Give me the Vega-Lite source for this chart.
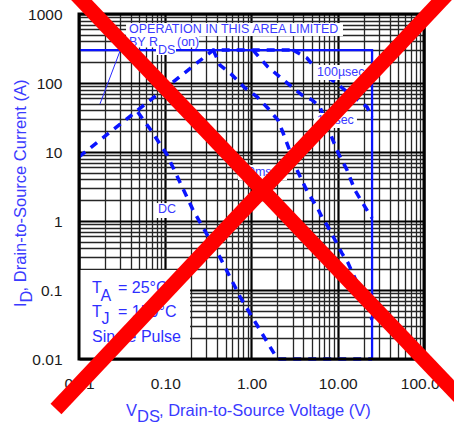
{
  "$schema": "https://vega.github.io/schema/vega-lite/v6.json",
  "width": 345,
  "height": 345,
  "autosize": {"type": "none"},
  "padding": {"left": 79, "top": 14, "right": 30, "bottom": 65},
  "background": "white",
  "config": {"view": {"stroke": null}, "font": "Liberation Sans"},
  "datasets": {
    "curves": [
      {"s": "rds", "i": 0, "v": 0.01, "a": 8.5},
      {"s": "rds", "i": 1, "v": 0.36, "a": 300},
      {"s": "rds", "i": 2, "v": 3.0, "a": 300},
      {"s": "dc", "i": 0, "v": 0.048, "a": 38},
      {"s": "dc", "i": 1, "v": 0.068, "a": 20.8},
      {"s": "dc", "i": 2, "v": 0.105, "a": 9.1},
      {"s": "dc", "i": 3, "v": 0.21, "a": 1.44},
      {"s": "dc", "i": 4, "v": 0.43, "a": 0.30},
      {"s": "dc", "i": 5, "v": 0.74, "a": 0.079},
      {"s": "dc", "i": 6, "v": 1.64, "a": 0.015},
      {"s": "dc", "i": 7, "v": 2.0, "a": 0.01},
      {"s": "dc", "i": 8, "v": 25, "a": 0.01},
      {"s": "10ms", "i": 0, "v": 0.36, "a": 300},
      {"s": "10ms", "i": 1, "v": 0.431, "a": 182},
      {"s": "10ms", "i": 2, "v": 0.594, "a": 131},
      {"s": "10ms", "i": 3, "v": 0.84, "a": 85},
      {"s": "10ms", "i": 4, "v": 1.16, "a": 63},
      {"s": "10ms", "i": 5, "v": 1.55, "a": 43},
      {"s": "10ms", "i": 6, "v": 2.03, "a": 29},
      {"s": "10ms", "i": 7, "v": 2.32, "a": 19},
      {"s": "10ms", "i": 8, "v": 3.37, "a": 5.5},
      {"s": "10ms", "i": 9, "v": 4.52, "a": 2.55},
      {"s": "10ms", "i": 10, "v": 5.74, "a": 1.6},
      {"s": "10ms", "i": 11, "v": 6.56, "a": 1.14},
      {"s": "10ms", "i": 12, "v": 7.7, "a": 0.82},
      {"s": "10ms", "i": 13, "v": 9.3, "a": 0.53},
      {"s": "10ms", "i": 14, "v": 11.2, "a": 0.34},
      {"s": "10ms", "i": 15, "v": 13.1, "a": 0.25},
      {"s": "10ms", "i": 16, "v": 22.4, "a": 0.057},
      {"s": "10ms", "i": 17, "v": 25, "a": 0.037},
      {"s": "1ms", "i": 0, "v": 1.04, "a": 300},
      {"s": "1ms", "i": 1, "v": 1.55, "a": 171},
      {"s": "1ms", "i": 2, "v": 2.14, "a": 122},
      {"s": "1ms", "i": 3, "v": 2.95, "a": 87.5},
      {"s": "1ms", "i": 4, "v": 3.85, "a": 67},
      {"s": "1ms", "i": 5, "v": 5.03, "a": 57},
      {"s": "1ms", "i": 6, "v": 6.22, "a": 45},
      {"s": "1ms", "i": 7, "v": 8.1, "a": 19},
      {"s": "1ms", "i": 8, "v": 10.1, "a": 9.7},
      {"s": "1ms", "i": 9, "v": 12.8, "a": 5.5},
      {"s": "1ms", "i": 10, "v": 15.8, "a": 2.8},
      {"s": "1ms", "i": 11, "v": 20.7, "a": 1.6},
      {"s": "1ms", "i": 12, "v": 25, "a": 1.1},
      {"s": "100us", "i": 0, "v": 3.03, "a": 300},
      {"s": "100us", "i": 1, "v": 4.4, "a": 230},
      {"s": "100us", "i": 2, "v": 5.74, "a": 154},
      {"s": "100us", "i": 3, "v": 9.3, "a": 103},
      {"s": "100us", "i": 4, "v": 12.1, "a": 79},
      {"s": "100us", "i": 5, "v": 21.8, "a": 45},
      {"s": "100us", "i": 6, "v": 25, "a": 32}
    ],
    "limit": [
      {"i": 0, "v": 0.01, "a": 300},
      {"i": 1, "v": 25, "a": 300},
      {"i": 2, "v": 25, "a": 0.01}
    ],
    "pointer": [
      {"i": 0, "v": 0.0175, "a": 49.7},
      {"i": 1, "v": 0.0341, "a": 449}
    ],
    "boxes": [
      {"x0": 0.01, "x1": 0.194, "y0": 0.01, "y1": 0.195},
      {"x0": 0.0351, "x1": 11.5, "y0": 480, "y1": 741},
      {"x0": 0.0315, "x1": 0.2462, "y0": 327, "y1": 480},
      {"x0": 0.0781, "x1": 0.1332, "y0": 254.6, "y1": 367},
      {"x0": 5.30, "x1": 21.3, "y0": 110.5, "y1": 182},
      {"x0": 5.30, "x1": 16.7, "y0": 22.3, "y1": 36.7},
      {"x0": 0.698, "x1": 2.58, "y0": 3.93, "y1": 6.49},
      {"x0": 0.076, "x1": 0.1406, "y0": 1.105, "y1": 1.82}
    ],
    "notes": [
      {"t": "OPERATION IN THIS AREA LIMITED", "x": 0.038, "y": 600},
      {"t": "BY R", "x": 0.038, "y": 393},
      {"t": "DS", "x": 0.0824, "y": 300},
      {"t": "(on)", "x": 0.1368, "y": 390},
      {"t": "100µsec", "x": 5.75, "y": 144},
      {"t": "1msec", "x": 5.75, "y": 29.1},
      {"t": "10msec", "x": 0.756, "y": 5.13},
      {"t": "DC", "x": 0.0824, "y": 1.49}
    ],
    "conditions": [
      {"t": "T", "x": 0.01416, "y": 0.1087},
      {"t": "A", "x": 0.0178, "y": 0.0818},
      {"t": "= 25°C", "x": 0.02833, "y": 0.1087},
      {"t": "T", "x": 0.01416, "y": 0.0472},
      {"t": "J", "x": 0.0182, "y": 0.038},
      {"t": "= 150°C", "x": 0.02833, "y": 0.0472},
      {"t": "Single Pulse", "x": 0.01416, "y": 0.0205}
    ],
    "xtitle": [
      {"t": "V", "x": 0.0351, "y": 0.001764},
      {"t": "DS", "x": 0.047, "y": 0.001443},
      {"t": ", Drain-to-Source Voltage (V)", "x": 0.0846, "y": 0.001764}
    ],
    "ytitle": [
      {"t": "I", "x": 0.002126, "y": 0.0567},
      {"t": "D", "x": 0.002494, "y": 0.0661},
      {"t": ", Drain-to-Source Current (A)", "x": 0.002126, "y": 0.0955}
    ],
    "cross": [
      {"k": 1, "i": 0, "x": 0.00829, "y": 2228},
      {"k": 1, "i": 1, "x": 341, "y": 0.00195},
      {"k": 2, "i": 0, "x": 0.00541, "y": 0.001886},
      {"k": 2, "i": 1, "x": 205.6, "y": 2228}
    ]
  },
  "layer": [
    {
      "data": {"name": "curves"},
      "mark": {"type": "line", "color": "#0a14ff", "strokeWidth": 3.5, "strokeDash": [8, 7]},
      "encoding": {
        "x": {
          "field": "v", "type": "quantitative",
          "scale": {"type": "log", "domain": [0.01, 100], "nice": false},
          "axis": {
            "values": [0.01, 0.02, 0.03, 0.04, 0.05, 0.06, 0.07, 0.08, 0.09, 0.1, 0.2, 0.3, 0.4, 0.5, 0.6, 0.7, 0.8, 0.9, 1, 2, 3, 4, 5, 6, 7, 8, 9, 10, 20, 30, 40, 50, 60, 70, 80, 90, 100],
            "labelExpr": "abs(log(datum.value)/LN10 - round(log(datum.value)/LN10)) < 0.001 ? format(datum.value, '.2f') : ''",
            "title": null, "ticks": false, "domain": false, "grid": true,
            "labelFlush": false, "labelOverlap": false,
            "labelFont": "Liberation Sans", "labelFontSize": 15.5, "labelColor": "#1a1a1a", "labelPadding": 17,
            "gridColor": {"condition": {"test": "abs(log(datum.value)/LN10 - round(log(datum.value)/LN10)) < 0.001", "value": "#000000"}, "value": "#262626"},
            "gridWidth": {"condition": {"test": "abs(log(datum.value)/LN10 - round(log(datum.value)/LN10)) < 0.001", "value": 2.2}, "value": 1.3},
            "gridOpacity": 1
          }
        },
        "y": {
          "field": "a", "type": "quantitative",
          "scale": {"type": "log", "domain": [0.01, 1000], "nice": false},
          "axis": {
            "values": [0.01, 0.02, 0.03, 0.04, 0.05, 0.06, 0.07, 0.08, 0.09, 0.1, 0.2, 0.3, 0.4, 0.5, 0.6, 0.7, 0.8, 0.9, 1, 2, 3, 4, 5, 6, 7, 8, 9, 10, 20, 30, 40, 50, 60, 70, 80, 90, 100, 200, 300, 400, 500, 600, 700, 800, 900, 1000],
            "labelExpr": "abs(log(datum.value)/LN10 - round(log(datum.value)/LN10)) < 0.001 ? format(datum.value, '~g') : ''",
            "title": null, "ticks": false, "domain": false, "grid": true,
            "labelFlush": false, "labelOverlap": false,
            "labelFont": "Liberation Sans", "labelFontSize": 15.5, "labelColor": "#1a1a1a", "labelPadding": 17,
            "gridColor": {"condition": {"test": "abs(log(datum.value)/LN10 - round(log(datum.value)/LN10)) < 0.001", "value": "#000000"}, "value": "#262626"},
            "gridWidth": {"condition": {"test": "abs(log(datum.value)/LN10 - round(log(datum.value)/LN10)) < 0.001", "value": 2.2}, "value": 1.3},
            "gridOpacity": 1
          }
        },
        "detail": {"field": "s"},
        "order": {"field": "i"}
      }
    },
    {
      "data": {"name": "limit"},
      "mark": {"type": "line", "color": "#0a14ff", "strokeWidth": 2.3},
      "encoding": {
        "x": {"field": "v", "type": "quantitative", "scale": {"type": "log", "domain": [0.01, 100], "nice": false}},
        "y": {"field": "a", "type": "quantitative", "scale": {"type": "log", "domain": [0.01, 1000], "nice": false}},
        "order": {"field": "i"}
      }
    },
    {
      "data": {"name": "boxes"},
      "mark": {"type": "rect", "fill": "white", "stroke": null},
      "encoding": {
        "x": {"field": "x0", "type": "quantitative", "scale": {"type": "log", "domain": [0.01, 100], "nice": false}},
        "x2": {"field": "x1"},
        "y": {"field": "y0", "type": "quantitative", "scale": {"type": "log", "domain": [0.01, 1000], "nice": false}},
        "y2": {"field": "y1"}
      }
    },
    {
      "data": {"name": "pointer"},
      "mark": {"type": "line", "color": "#2a2aff", "strokeWidth": 1},
      "encoding": {
        "x": {"field": "v", "type": "quantitative", "scale": {"type": "log", "domain": [0.01, 100], "nice": false}},
        "y": {"field": "a", "type": "quantitative", "scale": {"type": "log", "domain": [0.01, 1000], "nice": false}},
        "order": {"field": "i"}
      }
    },
    {
      "data": {"name": "notes"},
      "mark": {"type": "text", "align": "left", "baseline": "middle", "fontSize": 12.5, "font": "Liberation Sans", "color": "#3a3aff"},
      "encoding": {
        "x": {"field": "x", "type": "quantitative", "scale": {"type": "log", "domain": [0.01, 100], "nice": false}},
        "y": {"field": "y", "type": "quantitative", "scale": {"type": "log", "domain": [0.01, 1000], "nice": false}},
        "text": {"field": "t"}
      }
    },
    {
      "data": {"name": "conditions"},
      "mark": {"type": "text", "align": "left", "baseline": "middle", "fontSize": 16, "font": "Liberation Sans", "color": "#2e2eff"},
      "encoding": {
        "x": {"field": "x", "type": "quantitative", "scale": {"type": "log", "domain": [0.01, 100], "nice": false}},
        "y": {"field": "y", "type": "quantitative", "scale": {"type": "log", "domain": [0.01, 1000], "nice": false}},
        "text": {"field": "t"}
      }
    },
    {
      "data": {"name": "xtitle"},
      "mark": {"type": "text", "align": "left", "baseline": "middle", "fontSize": 16.5, "font": "Liberation Sans", "color": "#3a3aff"},
      "encoding": {
        "x": {"field": "x", "type": "quantitative", "scale": {"type": "log", "domain": [0.01, 100], "nice": false}},
        "y": {"field": "y", "type": "quantitative", "scale": {"type": "log", "domain": [0.01, 1000], "nice": false}},
        "text": {"field": "t"}
      }
    },
    {
      "data": {"name": "ytitle"},
      "mark": {"type": "text", "align": "left", "baseline": "middle", "angle": 270, "fontSize": 16.5, "font": "Liberation Sans", "color": "#3a3aff"},
      "encoding": {
        "x": {"field": "x", "type": "quantitative", "scale": {"type": "log", "domain": [0.01, 100], "nice": false}},
        "y": {"field": "y", "type": "quantitative", "scale": {"type": "log", "domain": [0.01, 1000], "nice": false}},
        "text": {"field": "t"}
      }
    },
    {
      "data": {"values": [{}]},
      "mark": {"type": "rect", "fill": null, "stroke": "#000000", "strokeWidth": 3},
      "encoding": {
        "x": {"datum": 0.01, "type": "quantitative", "scale": {"type": "log", "domain": [0.01, 100], "nice": false}},
        "x2": {"datum": 100},
        "y": {"datum": 0.01, "type": "quantitative", "scale": {"type": "log", "domain": [0.01, 1000], "nice": false}},
        "y2": {"datum": 1000}
      }
    },
    {
      "data": {"name": "cross"},
      "mark": {"type": "line", "color": "#ff0000", "strokeWidth": 15, "strokeCap": "butt"},
      "encoding": {
        "x": {"field": "x", "type": "quantitative", "scale": {"type": "log", "domain": [0.01, 100], "nice": false}},
        "y": {"field": "y", "type": "quantitative", "scale": {"type": "log", "domain": [0.01, 1000], "nice": false}},
        "detail": {"field": "k"},
        "order": {"field": "i"}
      }
    }
  ]
}
